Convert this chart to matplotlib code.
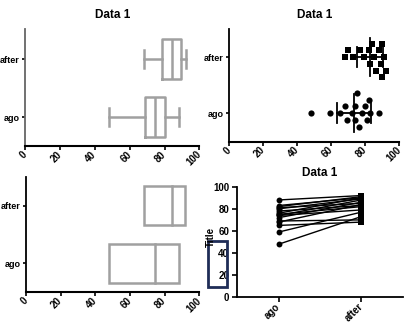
import numpy as np
import matplotlib
matplotlib.use("Agg")
import matplotlib.pyplot as plt
from matplotlib.patches import Rectangle

plt.rcParams['font.family'] = ['Liberation Sans', 'DejaVu Sans']
plt.rcParams['font.weight'] = 'bold'

# ---- data ----
groups = ["ago", "after"]
ago = [48, 59, 65, 68, 69, 72, 74, 74, 75, 76, 78, 80, 81, 82, 83, 88]
after = [73, 77, 68, 84, 70, 86, 79, 88, 82, 90, 83, 89, 85, 91, 90, 92]
title = "Data 1"
ylabel = "Title"
xticks_val = [0, 20, 40, 60, 80, 100]
yticks_val = [0, 20, 40, 60, 80, 100]

W, H = 412, 327
fig = plt.figure(figsize=(W / 100, H / 100), dpi=100)

GRAY = "#a0a0a0"
FS_T = 8.5
FS = 7
FS_CAT = 6.5


def px_axes(l, t, r, b):
    return fig.add_axes([l / W, 1 - b / H, (r - l) / W, (b - t) / H])


def style_h(ax, show_title=True):
    for s in ["top", "right"]:
        ax.spines[s].set_visible(False)
    ax.spines["left"].set_linewidth(1.3)
    ax.spines["bottom"].set_linewidth(1.5)
    ax.set_xlim(0, 100)
    ax.set_xticks(xticks_val)
    ax.set_xticklabels([str(v) for v in xticks_val], rotation=45, ha="right",
                       va="center", rotation_mode="anchor", fontsize=FS,
                       fontweight="bold")
    ax.set_yticks([0, 1])
    ax.set_yticklabels(groups, fontsize=FS_CAT, fontweight="bold")
    ax.tick_params(axis="x", length=3, width=1.2, direction="out", pad=2)
    ax.tick_params(axis="y", length=2.5, width=1.2, direction="out", pad=1.5)
    if show_title:
        ax.set_title(title, fontsize=FS_T, fontweight="bold", pad=8)


data = [ago, after]

# ---- top-left: box & whiskers ----
ax1 = px_axes(25, 29, 199.5, 146)
ax1.boxplot(data, positions=[0, 1], vert=False, widths=0.68, whis=(0, 100),
            capwidths=0.31,
            boxprops=dict(color=GRAY, linewidth=1.8),
            whiskerprops=dict(color=GRAY, linewidth=1.8),
            capprops=dict(color=GRAY, linewidth=1.8),
            medianprops=dict(color=GRAY, linewidth=1.8),
            showfliers=False)
ax1.set_ylim(-0.5, 1.52)
style_h(ax1)
ax1.spines["left"].set_color("#666666")

# ---- top-right: scatter with mean & SD ----
ax2 = px_axes(229.3, 29, 399.3, 141.7)
xs_px = 1.7   # pixels per x unit
ys_px = 56.0  # pixels per y unit
msize_px = 7.5


def swarm(vals):
    order = np.argsort(vals)
    placed = []
    offs = np.zeros(len(vals))
    step = msize_px / ys_px * 0.9
    cands = [0]
    for k in range(1, 12):
        cands += [k * step, -k * step]
    for i in order:
        for c in cands:
            ok = True
            for (v, o) in placed:
                dx = (vals[i] - v) * xs_px
                dy = (c - o) * ys_px
                if dx * dx + dy * dy < msize_px ** 2:
                    ok = False
                    break
            if ok:
                offs[i] = c
                placed.append((vals[i], c))
                break
    return offs


for pos, vals, mk in [(0, ago, "o"), (1, after, "s")]:
    v = np.array(vals, dtype=float)
    off = swarm(v)
    ax2.scatter(v, pos + off, marker=mk, s=20, color="black", zorder=3,
                linewidths=0)
    m, sd = v.mean(), v.std(ddof=1)
    ax2.plot([m, m], [pos - 0.34, pos + 0.34], color="black", lw=1.3, zorder=4)
    ax2.plot([m - sd, m + sd], [pos, pos], color="black", lw=1.3, zorder=4)
    for e in (m - sd, m + sd):
        ax2.plot([e, e], [pos - 0.18, pos + 0.18], color="black", lw=1.3,
                 zorder=4)
ax2.set_ylim(-0.51, 1.5)
style_h(ax2)

# ---- bottom-left: floating bars (min to max, line at median) ----
ax3 = px_axes(26, 177, 199.3, 292.3)
for pos, vals in [(0, ago), (1, after)]:
    v = np.array(vals, dtype=float)
    lo, hi, med = v.min(), v.max(), np.median(v)
    ax3.barh(pos, hi - lo, left=lo, height=0.68, facecolor="white",
             edgecolor=GRAY, linewidth=1.8)
    ax3.plot([med, med], [pos - 0.34, pos + 0.34], color=GRAY, lw=1.8)
ax3.set_ylim(-0.503, 1.498)
style_h(ax3, show_title=False)

# ---- bottom-right: paired before/after ----
ax4 = px_axes(236.7, 186.7, 403, 297.3)
for a, b in zip(ago, after):
    ax4.plot([0, 1], [a, b], color="black", lw=1.0, zorder=2)
ax4.scatter(np.zeros(len(ago)), ago, marker="o", s=18, color="black",
            zorder=3, linewidths=0)
ax4.scatter(np.ones(len(after)), after, marker="s", s=18, color="black",
            zorder=3, linewidths=0)
ax4.set_xlim(-0.508, 1.505)
ax4.set_ylim(0, 100)
for s in ["top", "right"]:
    ax4.spines[s].set_visible(False)
ax4.spines["left"].set_linewidth(1.3)
ax4.spines["bottom"].set_linewidth(1.3)
ax4.set_xticks([0, 1])
ax4.set_xticklabels(groups, rotation=45, ha="right", va="center",
                    rotation_mode="anchor", fontsize=FS, fontweight="bold")
ax4.set_yticks(yticks_val)
ax4.set_yticklabels([str(v) for v in yticks_val], fontsize=FS,
                    fontweight="bold")
ax4.tick_params(axis="both", length=3.5, width=1.2, direction="out", pad=2)
ax4.set_title(title, fontsize=FS_T, fontweight="bold", pad=8)

fig.text(211 / W, 1 - 237 / H, ylabel, rotation=90, ha="center", va="center",
         fontsize=FS, fontweight="bold")
fig.patches.append(Rectangle((208 / W, 1 - 287.3 / H), 18.7 / W, 46.3 / H,
                             transform=fig.transFigure, fill=False,
                             edgecolor="#1f2d57", linewidth=2.0))

fig.savefig("out.png", dpi=100, facecolor="white")
